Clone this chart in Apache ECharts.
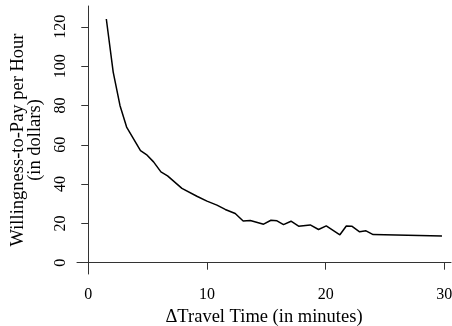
<!DOCTYPE html>
<html>
<head>
<meta charset="utf-8">
<script src="https://cdn.jsdelivr.net/npm/echarts@6/dist/echarts.min.js"></script>
<style>
  html, body { margin: 0; padding: 0; background: #fff; }
  #chart { width: 452px; height: 326px; }
</style>
</head>
<body>
<div id="chart"></div>
<script>
// change in travel time (minutes) and willingness-to-pay per hour (dollars)
const travelTime = [1.52, 2.1, 2.67, 3.23, 4.4, 4.9, 5.5, 6.12, 6.68, 7.89, 9.15, 10.0, 10.84, 11.54, 12.38,
                    13.05, 13.65, 14.77, 15.39, 15.9, 16.45, 17.08, 17.72, 18.7, 19.4, 20.05, 21.2, 21.74,
                    22.2, 22.86, 23.4, 24.0, 29.8];
const wtp = [124, 97, 80, 69, 57, 55, 51.3, 46.2, 44.2, 37.8, 33.8, 31.3, 29.3, 27.1, 25.0,
             21.2, 21.5, 19.6, 21.6, 21.3, 19.4, 21.1, 18.6, 19.2, 16.9, 18.7, 14.2, 18.7,
             18.6, 15.7, 16.2, 14.3, 13.6];
const xTicks = [0, 10, 20, 30];
const yTicks = [0, 20, 40, 60, 80, 100, 120];

const font = 'Liberation Serif';
const myChart = echarts.init(document.getElementById('chart'));

myChart.setOption({
    animation: false,
    grid: { left: 77, right: 1, top: 6, bottom: 52, outerBoundsMode: 'none' },
    xAxis: {
        type: 'value',
        min: -0.95,
        max: 30.56,
        name: '\u0394Travel Time (in minutes)',
        nameLocation: 'middle',
        nameGap: 31,
        nameTextStyle: { color: '#000', fontSize: 18.5, fontFamily: font, verticalAlign: 'middle' },
        axisLine: { lineStyle: { color: '#333', width: 1 } },
        axisTick: { customValues: xTicks, length: 7, lineStyle: { color: '#333' } },
        axisLabel: { customValues: xTicks, color: '#000', fontSize: 16, fontFamily: font, margin: 13 },
        splitLine: { show: false }
    },
    yAxis: {
        type: 'value',
        min: -5.75,
        max: 130.6,
        name: 'Willingness-to-Pay per Hour\n(in dollars)',
        nameLocation: 'middle',
        nameRotate: 90,
        nameGap: 26,
        nameTextStyle: { color: '#000', fontSize: 18.5, fontFamily: font, lineHeight: 17, align: 'center' },
        axisLine: { show: true, lineStyle: { color: '#333', width: 1 } },
        axisTick: { show: true, customValues: yTicks, length: 7, lineStyle: { color: '#333' } },
        axisLabel: { customValues: yTicks, rotate: 90, color: '#000', fontSize: 16, fontFamily: font, margin: 8 },
        splitLine: { show: false }
    },
    series: [{
        type: 'line',
        data: travelTime.map((t, i) => [t, wtp[i]]),
        showSymbol: false,
        lineStyle: { color: '#000', width: 1.5 }
    }]
});
</script>
</body>
</html>
